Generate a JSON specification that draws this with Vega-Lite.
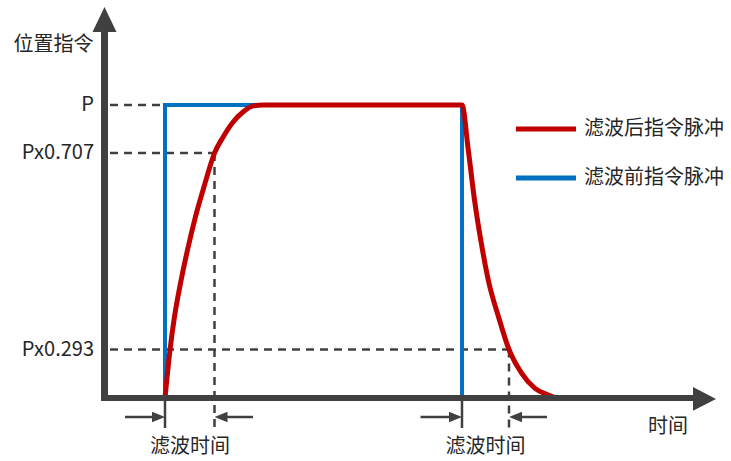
{
  "$schema": "https://vega.github.io/schema/vega-lite/v6.json",
  "width": 731,
  "height": 461,
  "autosize": {"type": "none"},
  "padding": 0,
  "background": "white",
  "config": {"view": {"stroke": null}},
  "datasets": {
    "before": [
      {"i": 0, "t": 0, "v": 0},
      {"i": 1, "t": 0, "v": 100},
      {"i": 2, "t": 59.4, "v": 100},
      {"i": 3, "t": 59.4, "v": 0}
    ],
    "after": [
      {"i": 0, "t": 0, "v": 0},
      {"i": 1, "t": 1, "v": 16.4},
      {"i": 2, "t": 1.9, "v": 27.75},
      {"i": 3, "t": 3.1, "v": 39.15},
      {"i": 4, "t": 4.5, "v": 50.5},
      {"i": 5, "t": 6.1, "v": 61.9},
      {"i": 6, "t": 7.8, "v": 72.1},
      {"i": 7, "t": 9.9, "v": 83.6},
      {"i": 8, "t": 11.66, "v": 89.2},
      {"i": 9, "t": 13.66, "v": 94.3},
      {"i": 10, "t": 15.66, "v": 97.7},
      {"i": 11, "t": 17.66, "v": 99.7},
      {"i": 12, "t": 19.66, "v": 100},
      {"i": 13, "t": 59.4, "v": 100},
      {"i": 14, "t": 60.66, "v": 84.6},
      {"i": 15, "t": 61.9, "v": 67.6},
      {"i": 16, "t": 63.5, "v": 50.5},
      {"i": 17, "t": 64.8, "v": 39.15},
      {"i": 18, "t": 66.7, "v": 27.75},
      {"i": 19, "t": 68.8, "v": 16.55},
      {"i": 20, "t": 71.34, "v": 8.4},
      {"i": 21, "t": 74, "v": 3.3},
      {"i": 22, "t": 76.66, "v": 1.0},
      {"i": 23, "t": 78.2, "v": 0}
    ],
    "dashed": [
      {"t": -11, "v": 100, "t2": 0, "v2": 100},
      {"t": -11, "v": 83.6, "t2": 9.9, "v2": 83.6},
      {"t": -11, "v": 16.55, "t2": 68.8, "v2": 16.55},
      {"t": 9.9, "v": 83.6, "t2": 9.9, "v2": -10.24},
      {"t": 68.8, "v": 16.55, "t2": 68.8, "v2": -10.24}
    ],
    "solid": [
      {"t": 0, "v": 0, "t2": 0, "v2": -10.24},
      {"t": 59.4, "v": 0, "t2": 59.4, "v2": -10.24},
      {"t": -8, "v": -6.48, "t2": -1, "v2": -6.48},
      {"t": 10.9, "v": -6.48, "t2": 17.6, "v2": -6.48},
      {"t": 51.1, "v": -6.48, "t2": 58.4, "v2": -6.48},
      {"t": 69.8, "v": -6.48, "t2": 76.4, "v2": -6.48}
    ],
    "axes": [
      {"t": -12.1, "v": -1.02, "t2": -12.1, "v2": 125.6, "w": 7},
      {"t": -12.8, "v": 0, "t2": 106, "v2": 0, "w": 6}
    ],
    "rightHeads": [
      {"t": -1.3, "v": -6.48},
      {"t": 58.1, "v": -6.48}
    ],
    "leftHeads": [
      {"t": 11.2, "v": -6.48},
      {"t": 70.1, "v": -6.48}
    ],
    "legendLines": [
      {"series": "滤波后指令脉冲", "t": 70.2, "t2": 82.2, "v": 91.8},
      {"series": "滤波前指令脉冲", "t": 70.2, "t2": 82.2, "v": 75.09}
    ],
    "rightText": [
      {"label": "P", "t": -14.2, "v": 100},
      {"label": "Px0.707", "t": -14.2, "v": 83.6},
      {"label": "Px0.293", "t": -14.2, "v": 16.55}
    ],
    "centerText": [
      {"label": "位置指令", "t": -22.3, "v": 120.5},
      {"label": "滤波时间", "t": 5, "v": -16.7},
      {"label": "滤波时间", "t": 64.1, "v": -16.7},
      {"label": "时间", "t": 100.6, "v": -9.9}
    ],
    "leftText": [
      {"label": "滤波后指令脉冲", "t": 83.8, "v": 91.8},
      {"label": "滤波前指令脉冲", "t": 83.8, "v": 75.09}
    ]
  },
  "layer": [
    {
      "data": {"name": "dashed"},
      "mark": {"type": "rule", "color": "#404040", "strokeWidth": 2.5, "strokeDash": [8, 6]},
      "encoding": {
        "x": {"field": "t", "type": "quantitative", "scale": {"domain": [-33, 113.2], "nice": false, "zero": false}, "axis": null},
        "x2": {"field": "t2"},
        "y": {"field": "v", "type": "quantitative", "scale": {"domain": [-21.5, 135.84], "nice": false, "zero": false}, "axis": null},
        "y2": {"field": "v2"}
      }
    },
    {
      "data": {"name": "solid"},
      "mark": {"type": "rule", "color": "#404040", "strokeWidth": 2.5},
      "encoding": {
        "x": {"field": "t", "type": "quantitative", "scale": {"domain": [-33, 113.2], "nice": false, "zero": false}, "axis": null},
        "x2": {"field": "t2"},
        "y": {"field": "v", "type": "quantitative", "scale": {"domain": [-21.5, 135.84], "nice": false, "zero": false}, "axis": null},
        "y2": {"field": "v2"}
      }
    },
    {
      "data": {"name": "rightHeads"},
      "mark": {"type": "point", "shape": "M1,0L-1,-0.8L-1,0.8Z", "size": 169, "filled": true, "color": "#404040", "opacity": 1},
      "encoding": {
        "x": {"field": "t", "type": "quantitative", "scale": {"domain": [-33, 113.2], "nice": false, "zero": false}, "axis": null},
        "y": {"field": "v", "type": "quantitative", "scale": {"domain": [-21.5, 135.84], "nice": false, "zero": false}, "axis": null}
      }
    },
    {
      "data": {"name": "leftHeads"},
      "mark": {"type": "point", "shape": "M-1,0L1,-0.8L1,0.8Z", "size": 169, "filled": true, "color": "#404040", "opacity": 1},
      "encoding": {
        "x": {"field": "t", "type": "quantitative", "scale": {"domain": [-33, 113.2], "nice": false, "zero": false}, "axis": null},
        "y": {"field": "v", "type": "quantitative", "scale": {"domain": [-21.5, 135.84], "nice": false, "zero": false}, "axis": null}
      }
    },
    {
      "data": {"name": "before"},
      "mark": {"type": "line", "strokeJoin": "miter", "interpolate": "linear", "color": "#0070C0", "strokeWidth": 4},
      "encoding": {
        "x": {"field": "t", "type": "quantitative", "scale": {"domain": [-33, 113.2], "nice": false, "zero": false}, "axis": null},
        "y": {"field": "v", "type": "quantitative", "scale": {"domain": [-21.5, 135.84], "nice": false, "zero": false}, "axis": null},
        "order": {"field": "i"}
      }
    },
    {
      "data": {"name": "after"},
      "mark": {"type": "line", "strokeJoin": "miter", "interpolate": "monotone", "color": "#C00000", "strokeWidth": 5},
      "encoding": {
        "x": {"field": "t", "type": "quantitative", "scale": {"domain": [-33, 113.2], "nice": false, "zero": false}, "axis": null},
        "y": {"field": "v", "type": "quantitative", "scale": {"domain": [-21.5, 135.84], "nice": false, "zero": false}, "axis": null},
        "order": {"field": "i"}
      }
    },
    {
      "data": {"name": "axes"},
      "mark": {"type": "rule", "color": "#404040", "strokeCap": "butt"},
      "encoding": {
        "x": {"field": "t", "type": "quantitative", "scale": {"domain": [-33, 113.2], "nice": false, "zero": false}, "axis": null},
        "x2": {"field": "t2"},
        "y": {"field": "v", "type": "quantitative", "scale": {"domain": [-21.5, 135.84], "nice": false, "zero": false}, "axis": null},
        "y2": {"field": "v2"},
        "strokeWidth": {"field": "w", "type": "quantitative", "scale": null}
      }
    },
    {
      "data": {"values": [{"t": -12.1, "v": 129.2}]},
      "mark": {"type": "point", "shape": "M0,-1L0.96,1L-0.96,1Z", "size": 625, "filled": true, "color": "#404040", "opacity": 1},
      "encoding": {
        "x": {"field": "t", "type": "quantitative", "scale": {"domain": [-33, 113.2], "nice": false, "zero": false}, "axis": null},
        "y": {"field": "v", "type": "quantitative", "scale": {"domain": [-21.5, 135.84], "nice": false, "zero": false}, "axis": null}
      }
    },
    {
      "data": {"values": [{"t": 107.9, "v": -0.3}]},
      "mark": {"type": "point", "shape": "M1,0L-1,-1.04L-1,1.04Z", "size": 529, "filled": true, "color": "#404040", "opacity": 1},
      "encoding": {
        "x": {"field": "t", "type": "quantitative", "scale": {"domain": [-33, 113.2], "nice": false, "zero": false}, "axis": null},
        "y": {"field": "v", "type": "quantitative", "scale": {"domain": [-21.5, 135.84], "nice": false, "zero": false}, "axis": null}
      }
    },
    {
      "data": {"name": "legendLines"},
      "mark": {"type": "rule", "strokeWidth": 5, "strokeCap": "butt"},
      "encoding": {
        "x": {"field": "t", "type": "quantitative", "scale": {"domain": [-33, 113.2], "nice": false, "zero": false}, "axis": null},
        "x2": {"field": "t2"},
        "y": {"field": "v", "type": "quantitative", "scale": {"domain": [-21.5, 135.84], "nice": false, "zero": false}, "axis": null},
        "color": {"field": "series", "type": "nominal", "scale": {"domain": ["滤波后指令脉冲", "滤波前指令脉冲"], "range": ["#C00000", "#0070C0"]}, "legend": null}
      }
    },
    {
      "data": {"name": "rightText"},
      "mark": {"type": "text", "align": "right", "baseline": "middle", "font": "Noto Sans CJK SC", "fontSize": 20, "color": "#262626"},
      "encoding": {
        "x": {"field": "t", "type": "quantitative", "scale": {"domain": [-33, 113.2], "nice": false, "zero": false}, "axis": null},
        "y": {"field": "v", "type": "quantitative", "scale": {"domain": [-21.5, 135.84], "nice": false, "zero": false}, "axis": null},
        "text": {"field": "label"}
      }
    },
    {
      "data": {"name": "centerText"},
      "mark": {"type": "text", "align": "center", "baseline": "middle", "font": "Noto Sans CJK SC", "fontSize": 20, "color": "#262626"},
      "encoding": {
        "x": {"field": "t", "type": "quantitative", "scale": {"domain": [-33, 113.2], "nice": false, "zero": false}, "axis": null},
        "y": {"field": "v", "type": "quantitative", "scale": {"domain": [-21.5, 135.84], "nice": false, "zero": false}, "axis": null},
        "text": {"field": "label"}
      }
    },
    {
      "data": {"name": "leftText"},
      "mark": {"type": "text", "align": "left", "baseline": "middle", "font": "Noto Sans CJK SC", "fontSize": 20, "color": "#262626"},
      "encoding": {
        "x": {"field": "t", "type": "quantitative", "scale": {"domain": [-33, 113.2], "nice": false, "zero": false}, "axis": null},
        "y": {"field": "v", "type": "quantitative", "scale": {"domain": [-21.5, 135.84], "nice": false, "zero": false}, "axis": null},
        "text": {"field": "label"}
      }
    }
  ]
}
